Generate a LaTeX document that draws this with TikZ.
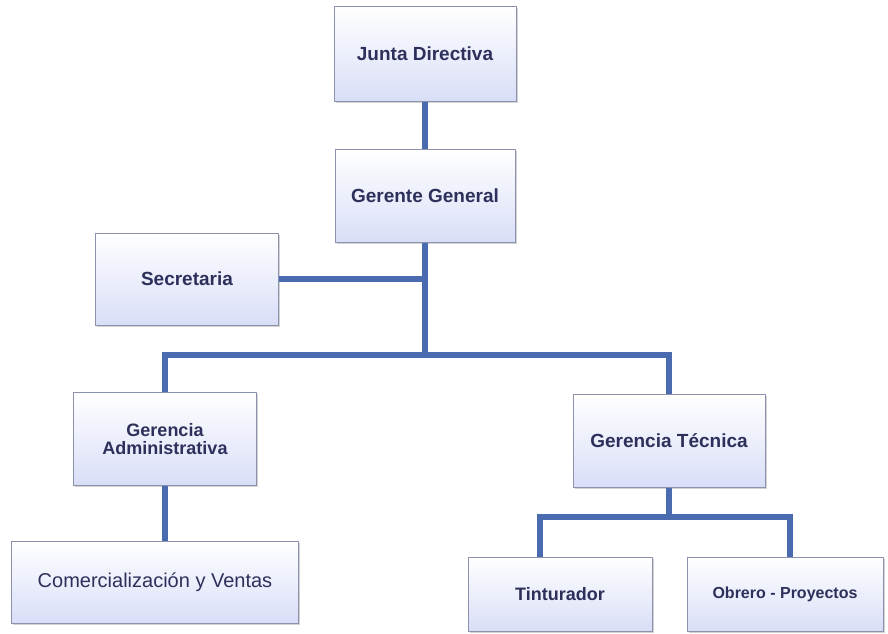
\documentclass[tikz,border=0pt]{standalone}
\usepackage{fontspec}
\setmainfont{Liberation Sans}
\usepackage{xcolor}
\definecolor{lightlav}{rgb}{0.85,0.87,0.97}
\definecolor{boxline}{rgb}{0.55,0.57,0.68}
\definecolor{linkblue}{rgb}{0.29,0.42,0.69}
\definecolor{navytext}{rgb}{0.18,0.19,0.36}
\usepackage{tikz}
\usetikzlibrary{shadows}
\tikzset{
    cargo/.style={
           rectangle,
           draw=boxline, line width=0.8pt,
           top color=white, bottom color=lightlav,
           drop shadow={shadow xshift=1.5pt, shadow yshift=-1.5pt, opacity=0.35},
           inner sep=2pt,
           align=center,
           text=navytext,
           font=\bfseries\fontsize{19}{20}\selectfont
           },
    enlace/.style={
           draw=linkblue,
           line width=6pt,
           line join=miter
           },
}

\begin{document}
\begin{tikzpicture}[x=1pt,y=-1pt]
            \useasboundingbox (0,0) rectangle (888,633);

             \node[cargo,
              minimum width=182pt, minimum height=95pt
              ] (JUNTA) at (425,54)
             {Junta Directiva};

             \node[cargo,
              minimum width=180pt, minimum height=93pt,
              below of=JUNTA,
              node distance=142pt,
              anchor=center
              ] (GERENTE)
             {Gerente General};

             \node[cargo,
              minimum width=183pt, minimum height=92pt
              ] (SECRE) at (187,279)
             {Secretaria};

             \node[cargo,
              minimum width=183pt, minimum height=93pt,
              font=\bfseries\fontsize{18}{18}\selectfont
              ] (GADM) at (165,439)
             {Gerencia\\ Administrativa};

             \node[cargo,
              minimum width=192pt, minimum height=93pt
              ] (GTEC) at (669,441)
             {Gerencia T\'ecnica};

             \node[cargo,
              minimum width=287pt, minimum height=82pt,
              font=\fontsize{20}{22}\selectfont
              ] (COMER) at (155,582)
             {Comercializaci\'on y Ventas};

             \node[cargo,
              minimum width=184pt, minimum height=74pt,
              font=\bfseries\fontsize{18}{20}\selectfont
              ] (TINT) at (560,594)
             {Tinturador};

             \node[cargo,
              minimum width=196pt, minimum height=74pt,
              font=\bfseries\fontsize{16}{18}\selectfont
              ] (OBRERO) at (785,594)
             {Obrero - Proyectos};

             % puntos de reparto
             \coordinate (BUS) at (425,355);
             \coordinate (BUSL) at (165,355);
             \coordinate (BUSR) at (669,355);
             \coordinate (TECL) at (540,517);
             \coordinate (TECR) at (790,517);

             \path[enlace]
             (JUNTA) -- (GERENTE)
             (GERENTE.south) -- (BUS)
             (SECRE.east) -- (SECRE.east -| BUS)
             (GADM.north) -- (BUSL) -- (BUSR) -- (GTEC.north)
             (GADM.south) -- (GADM.south |- COMER.north)
             (GTEC.south) -- (GTEC.south |- TECL)
             (TINT.north -| TECL) -- (TECL) -- (TECR) -- (TECR |- OBRERO.north)
             ;

\end{tikzpicture}
\end{document}
